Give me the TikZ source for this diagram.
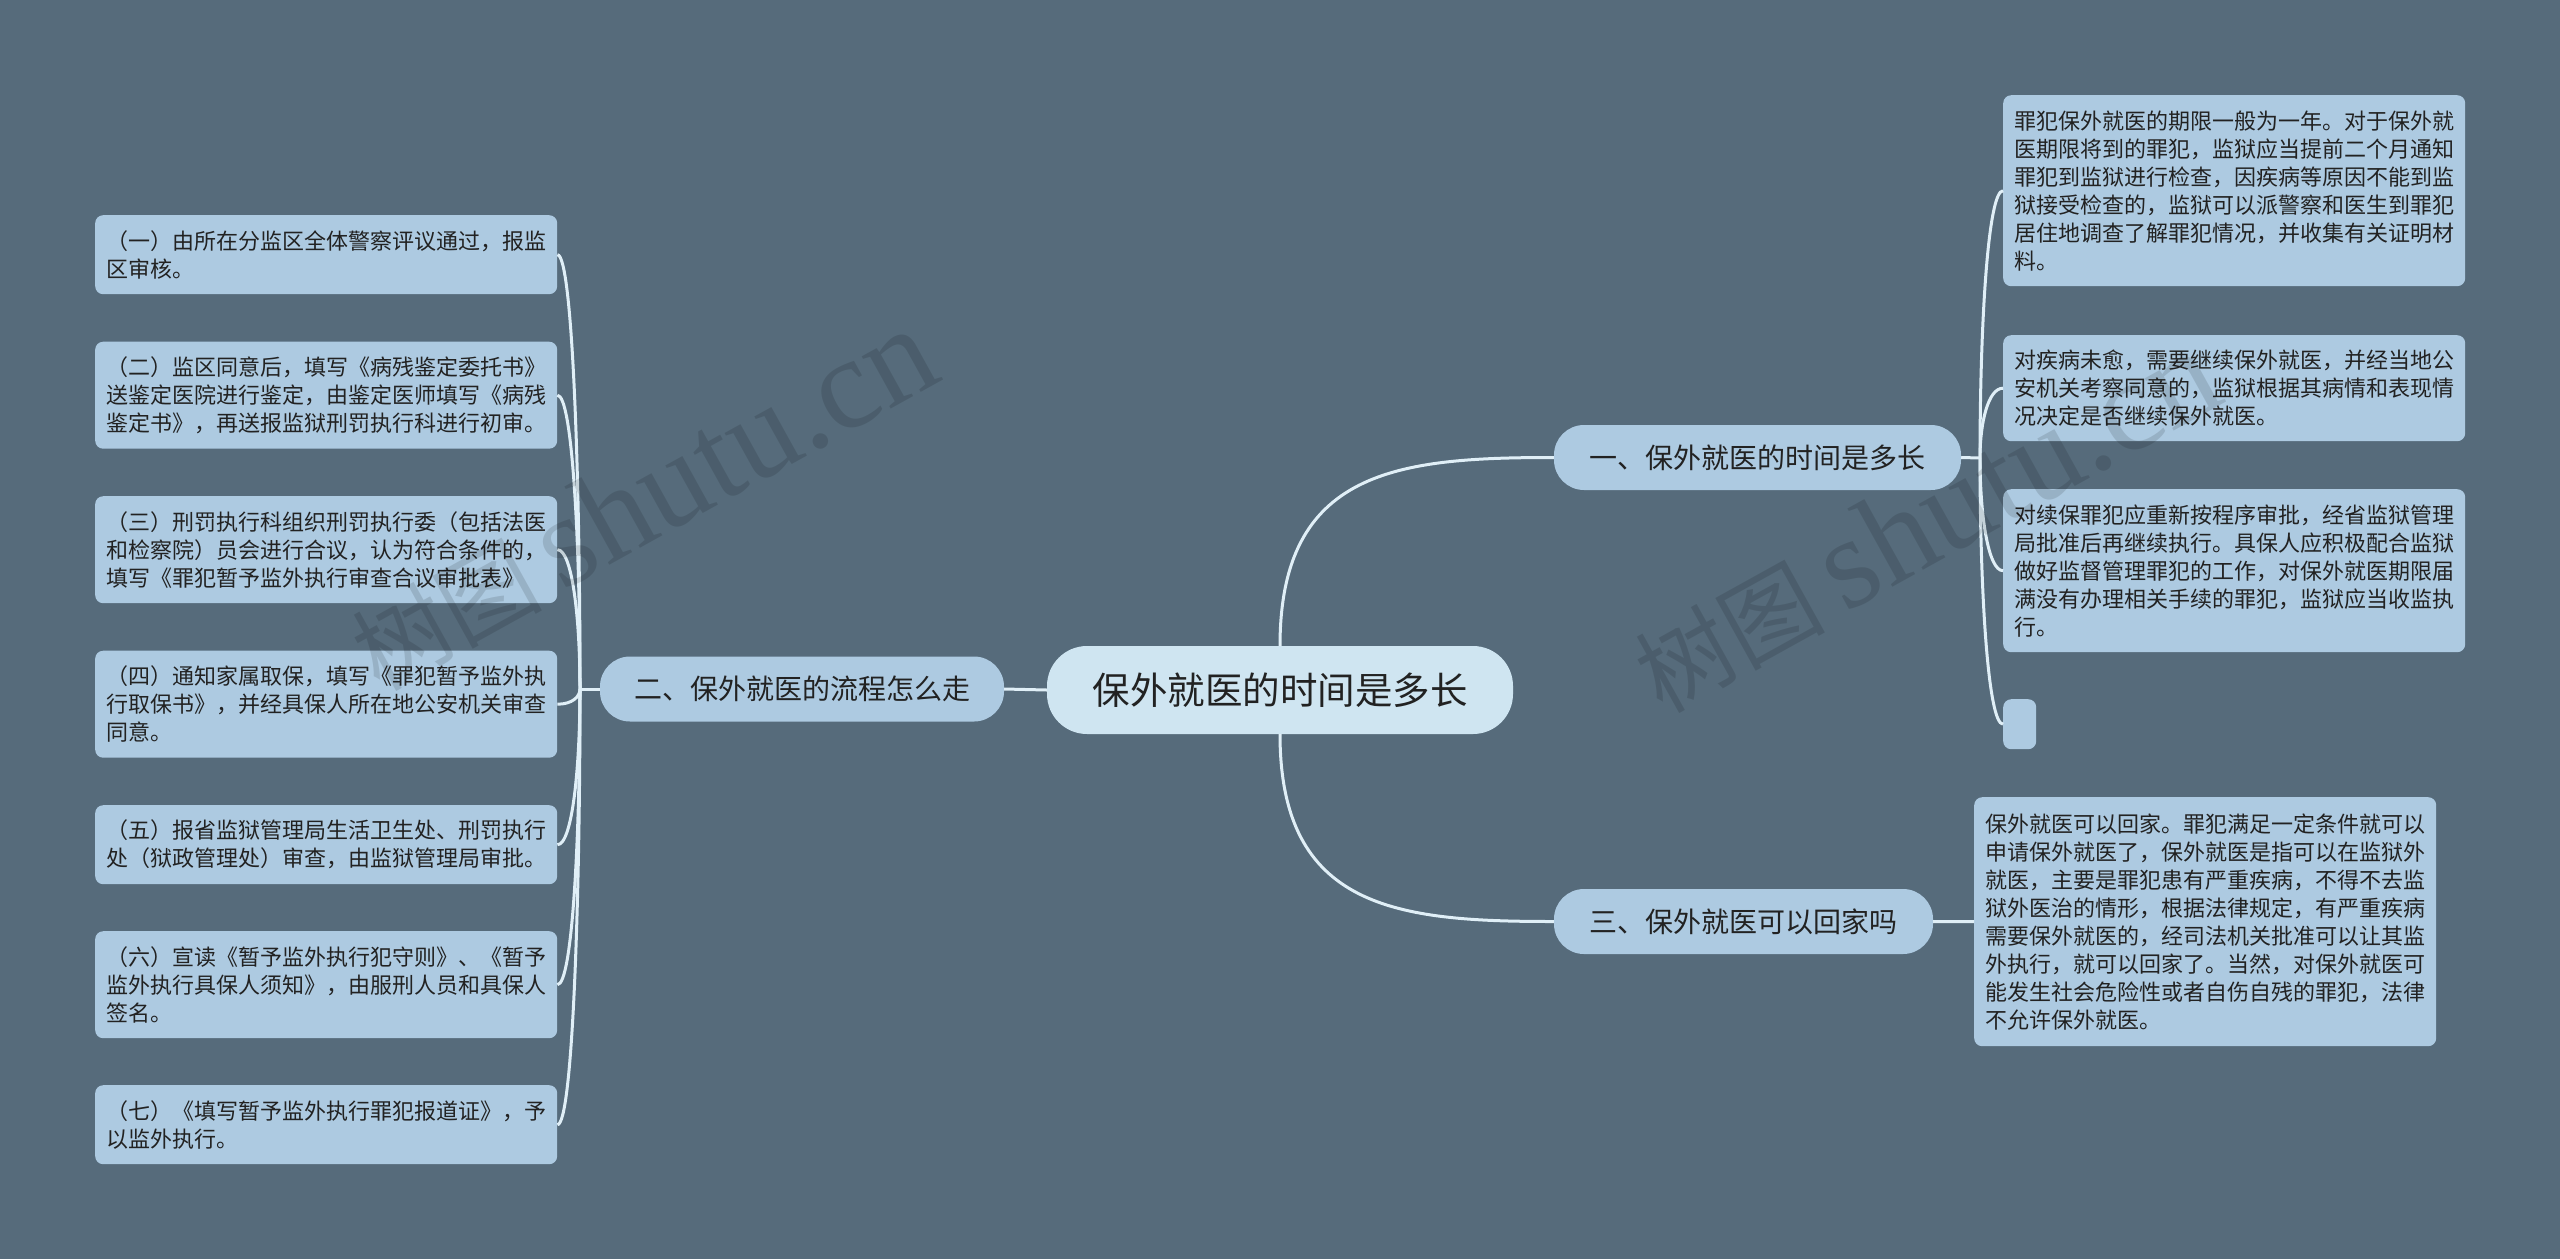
\documentclass[tikz,border=0pt]{standalone}
\usepackage{fontspec}
\setmainfont{Noto Sans CJK SC}
\newfontfamily\wmlatin{Liberation Serif}
\usetikzlibrary{calc}
\definecolor{bgc}{HTML}{566B7B}
\definecolor{leaffill}{HTML}{ADCAE1}
\definecolor{rootfill}{HTML}{CFE5F1}
\definecolor{linec}{HTML}{E0EFF7}
\definecolor{txt}{HTML}{222222}
\begin{document}
\begin{tikzpicture}[x=1pt,y=-1pt,
  box/.style={fill=leaffill, rounded corners=8pt, anchor=north west, inner sep=0pt},
  leaf/.style={box, inner xsep=11pt, inner ysep=0pt, text width=440pt, align=left, text=txt, font=\fontsize{22}{28}\selectfont},
  branch/.style={fill=leaffill, rounded corners=30pt, minimum height=65pt, inner sep=0pt, text=txt, font=\fontsize{28}{32}\selectfont},
  root/.style={fill=rootfill, rounded corners=40pt, minimum width=466pt, minimum height=88pt, inner sep=0pt, text=txt, font=\fontsize{37.5}{40}\selectfont},
  conn/.style={draw=linec, line width=3pt},
  wm/.style={text=black, text opacity=0.12, inner sep=0pt}
]
\useasboundingbox (0,0) rectangle (2560,1259);
\fill[bgc] (0,0) rectangle (2560,1259);

% central and branches
\node[root] (c) at (1280,690) {保外就医的时间是多长};
\node[branch, minimum width=407pt] (b1) at (1757.5,457.5) {一、保外就医的时间是多长};
\node[branch, minimum width=404pt] (b2) at (802,689) {二、保外就医的流程怎么走};
\node[branch, minimum width=379pt] (b3) at (1743.5,921.5) {三、保外就医可以回家吗};

% left leaves
\node[leaf, minimum height=79pt] (l1) at (95,215) {（一）由所在分监区全体警察评议通过，报监\\区审核。};
\node[leaf, minimum height=107pt] (l2) at (95,341.5) {（二）监区同意后，填写《病残鉴定委托书》\\送鉴定医院进行鉴定，由鉴定医师填写《病残\\鉴定书》，再送报监狱刑罚执行科进行初审。};
\node[leaf, minimum height=107pt] (l3) at (95,496) {（三）刑罚执行科组织刑罚执行委（包括法医\\和检察院）员会进行合议，认为符合条件的，\\填写《罪犯暂予监外执行审查合议审批表》};
\node[leaf, minimum height=107pt] (l4) at (95,650.5) {（四）通知家属取保，填写《罪犯暂予监外执\\行取保书》，并经具保人所在地公安机关审查\\同意。};
\node[leaf, minimum height=79pt] (l5) at (95,805) {（五）报省监狱管理局生活卫生处、刑罚执行\\处（狱政管理处）审查，由监狱管理局审批。};
\node[leaf, minimum height=107pt] (l6) at (95,931) {（六）宣读《暂予监外执行犯守则》、《暂予\\监外执行具保人须知》，由服刑人员和具保人\\签名。};
\node[leaf, minimum height=79pt] (l7) at (95,1085) {（七）《填写暂予监外执行罪犯报道证》，予\\以监外执行。};

% right leaves
\node[leaf, minimum height=191pt] (r1) at (2003,95) {罪犯保外就医的期限一般为一年。对于保外就\\医期限将到的罪犯，监狱应当提前二个月通知\\罪犯到监狱进行检查，因疾病等原因不能到监\\狱接受检查的，监狱可以派警察和医生到罪犯\\居住地调查了解罪犯情况，并收集有关证明材\\料。};
\node[leaf, minimum height=106pt] (r2) at (2003,335) {对疾病未愈，需要继续保外就医，并经当地公\\安机关考察同意的，监狱根据其病情和表现情\\况决定是否继续保外就医。};
\node[leaf, minimum height=163pt] (r3) at (2003,489) {对续保罪犯应重新按程序审批，经省监狱管理\\局批准后再继续执行。具保人应积极配合监狱\\做好监督管理罪犯的工作，对保外就医期限届\\满没有办理相关手续的罪犯，监狱应当收监执\\行。};
\node[box, minimum width=33pt, minimum height=50pt] (r4) at (2003,699) {};
\node[leaf, minimum height=249pt] (r5) at (1974,797) {保外就医可以回家。罪犯满足一定条件就可以\\申请保外就医了，保外就医是指可以在监狱外\\就医，主要是罪犯患有严重疾病，不得不去监\\狱外医治的情形，根据法律规定，有严重疾病\\需要保外就医的，经司法机关批准可以让其监\\外执行，就可以回家了。当然，对保外就医可\\能发生社会危险性或者自伤自残的罪犯，法律\\不允许保外就医。};

% connectors
\coordinate (tl) at (580,689);
\coordinate (tr) at (1980,458);
\draw[conn] (c.west) -- (b2.east);
\draw[conn] (b2.west) -- (tl);
\foreach \L in {l1,l2,l3,l4,l5,l6,l7}{
  \draw[conn] (tl) .. controls ($(tl)!0.5!(tl|-\L.east)$) and ($(\L.east)+(15,0)$) .. (\L.east);
}
\draw[conn] (c.north) .. controls ($(c.north|-b1.west)+(0,12)$) and ($(c.north|-b1.west)+(118,0)$) .. (b1.west);
\draw[conn] (c.south) .. controls ($(c.south|-b3.west)+(0,-12)$) and ($(c.south|-b3.west)+(118,0)$) .. (b3.west);
\draw[conn] (b1.east) -- (tr);
\foreach \R in {r1,r2,r3,r4}{
  \draw[conn] (tr) .. controls ($(tr)!0.5!(tr|-\R.west)$) and ($(\R.west)+(-15,0)$) .. (\R.west);
}
\draw[conn] (b3.east) -- (r5.west);

% watermarks
\node[wm, rotate=29] (wm1) at (642,500) {\fontsize{95}{100}\selectfont 树图\hspace{20pt}{\wmlatin\fontsize{130}{130}\selectfont shutu.cn}};
\node[wm, rotate=29] (wm2) at (1925,522) {\fontsize{95}{100}\selectfont 树图\hspace{20pt}{\wmlatin\fontsize{130}{130}\selectfont shutu.cn}};
\end{tikzpicture}
\end{document}
